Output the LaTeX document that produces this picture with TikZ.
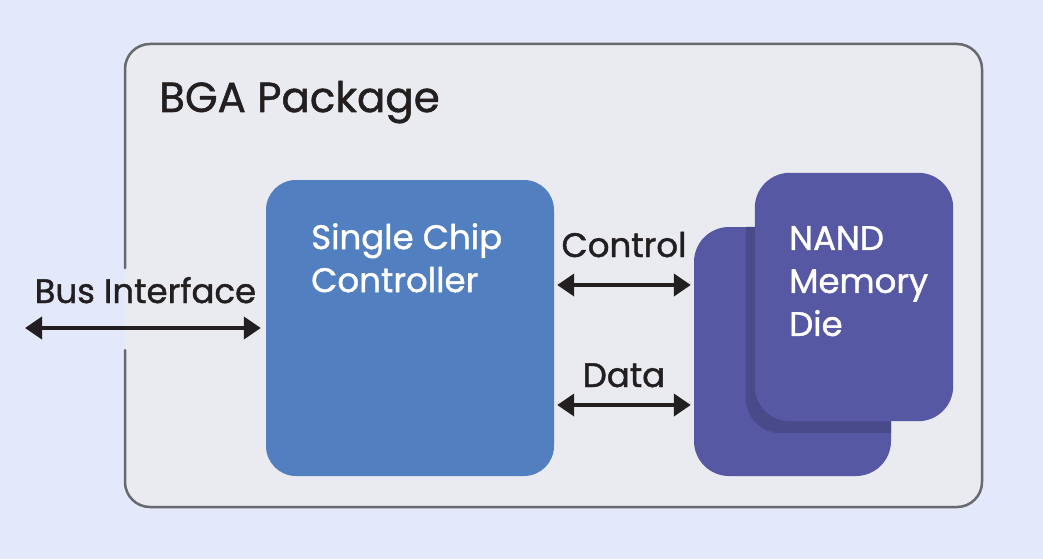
\documentclass[tikz,border=0pt]{standalone}
\usepackage{fontspec}
\setmainfont{Poppins}
\newfontfamily\medfont{Poppins}[FakeBold=1.2]
\usetikzlibrary{arrows.meta,positioning}
\definecolor{bgcol}{RGB}{227,233,251}
\definecolor{pkgfill}{RGB}{234,235,240}
\definecolor{pkgline}{RGB}{103,105,110}
\definecolor{ctrlcol}{RGB}{81,127,192}
\definecolor{diecol}{RGB}{86,88,163}
\definecolor{dieshade}{RGB}{73,74,138}
\definecolor{txtcol}{RGB}{35,31,32}

\begin{document}
\begin{tikzpicture}[x=1pt,y=-1pt,line cap=round,line join=round,>={Triangle[length=17pt,width=22pt]},
  lbl/.style={font=\medfont\fontsize{34}{43}\selectfont,text=txtcol,inner sep=0pt},
  intxt/.style={font=\medfont\fontsize{34}{43}\selectfont,text=white,inner sep=0pt,align=left,anchor=north west},
  chip/.style={rounded corners=#1,inner sep=0pt},
  link/.style={<->,line width=4pt,draw=txtcol,shorten <=3pt,shorten >=3pt}]
      \fill[bgcol] (0,0) rectangle (1043,559);
      \fill[pkgfill,rounded corners=25pt] (125,44) rectangle (982,507);
      \draw[pkgline,line width=2.5pt,rounded corners=25pt] (125,268) -- (125,44) -- (982,44) -- (982,507) -- (125,507) -- (125,350);
      \node[lbl,font=\medfont\fontsize{42}{50}\selectfont,anchor=base west] (pkgtitle) at (159,112) {BGA Package};
      \node[chip=30pt,fill=ctrlcol,minimum width=288pt,minimum height=296pt] (ctrl) at (410,328) {};
      \node[intxt] (ctrltxt) at (311,223) {Single Chip\\Controller};
      \node[chip=35pt,fill=diecol,minimum width=197pt,minimum height=249pt] (dieback) at (792.5,351.5) {};
      \node[chip=35pt,minimum width=198pt,minimum height=248pt] (diefront) at (854,297) {};
      \begin{scope}
        \clip[rounded corners=35pt] (dieback.south west) rectangle (dieback.north east);
        \fill[dieshade,rounded corners=35pt] ([shift={(-9,12)}]diefront.south west) rectangle ([shift={(-9,12)}]diefront.north east);
      \end{scope}
      \fill[diecol,rounded corners=35pt] (diefront.south west) rectangle (diefront.north east);
      \node[intxt] (dietxt) at (789,226) {NAND\\Memory\\Die};
      \coordinate (busend) at (25,328);
      \coordinate (ctrlline) at (0,285);
      \coordinate (dataline) at (0,405);
      \draw[link,shorten <=0pt,shorten >=5pt] (busend) -- node[lbl,anchor=base,yshift=25pt] (buslbl) {Bus Interface} (ctrl.west);
      \draw[link] (ctrl.east |- ctrlline) -- node[lbl,anchor=base,yshift=28pt] (ctrllbl) {Control} (dieback.west |- ctrlline);
      \draw[link] (ctrl.east |- dataline) -- node[lbl,anchor=base,yshift=18pt] (datalbl) {Data} (dieback.west |- dataline);
\end{tikzpicture}
\end{document}
